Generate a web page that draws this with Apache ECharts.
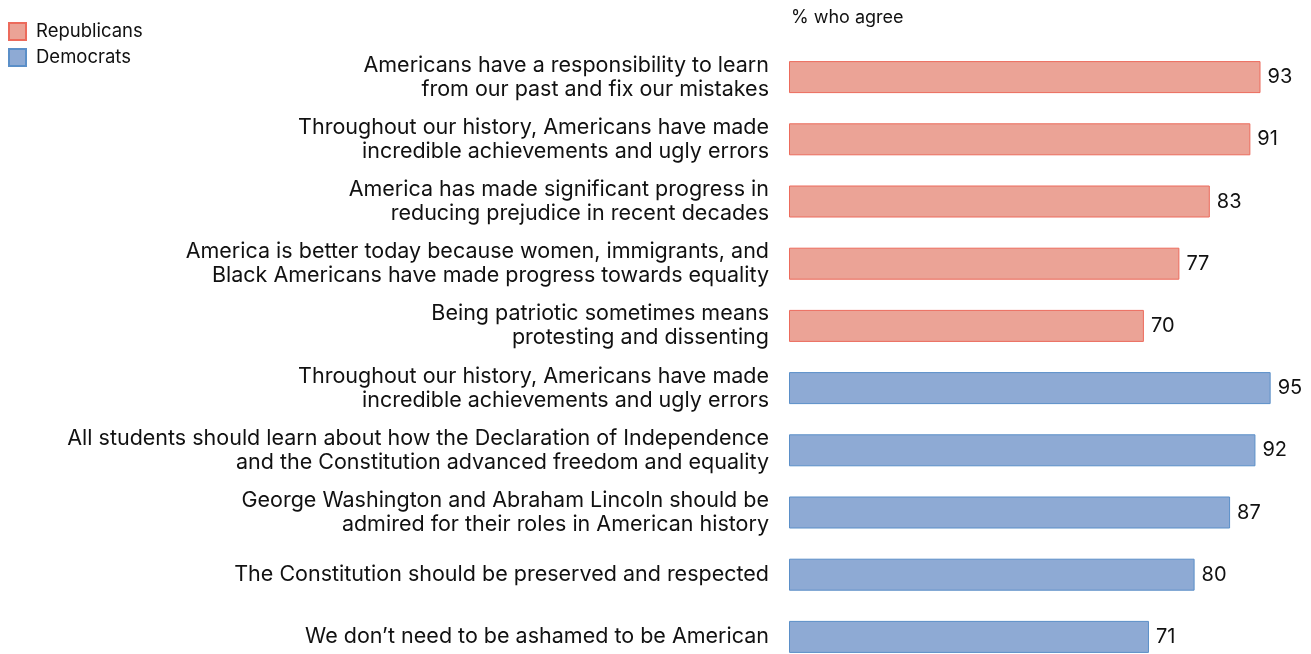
<!DOCTYPE html>
<html>
<head>
<meta charset="utf-8">
<style>
  html, body { margin: 0; padding: 0; background: #fff; }
  #chart { width: 1311px; height: 654px; }
</style>
<script src="https://cdn.jsdelivr.net/npm/echarts@6/dist/echarts.min.js"></script>
</head>
<body>
<div id="chart"></div>
<script>
// Statements, top to bottom
const categories = [
  'Americans have a responsibility to learn\nfrom our past and fix our mistakes',
  'Throughout our history, Americans have made\nincredible achievements and ugly errors',
  'America has made significant progress in\nreducing prejudice in recent decades',
  'America is better today because women, immigrants, and\nBlack Americans have made progress towards equality',
  'Being patriotic sometimes means\nprotesting and dissenting',
  'Throughout our history, Americans have made\nincredible achievements and ugly errors',
  'All students should learn about how the Declaration of Independence\nand the Constitution advanced freedom and equality',
  'George Washington and Abraham Lincoln should be\nadmired for their roles in American history',
  'The Constitution should be preserved and respected',
  'We don\u2019t need to be ashamed to be American'
];

// % who agree
const republicans = [93, 91, 83, 77, 70, null, null, null, null, null];
const democrats   = [null, null, null, null, null, 95, 92, 87, 80, 71];

const FONT = 'Inter, "Noto Sans", sans-serif';

const chart = echarts.init(document.getElementById('chart'));

const valueLabel = {
  show: true,
  position: 'right',
  distance: 7,
  fontSize: 20,
  fontFamily: FONT,
  color: '#111'
};

chart.setOption({
  animation: false,
  textStyle: { fontFamily: FONT },
  title: {
    text: '% who agree',
    left: 786,
    top: 4,
    textStyle: { fontSize: 18, fontWeight: 'normal', color: '#111', fontFamily: FONT }
  },
  legend: {
    orient: 'vertical',
    left: 8,
    top: 22,
    icon: 'rect',
    itemWidth: 17,
    itemHeight: 17,
    itemGap: 7,
    padding: 0,
    textStyle: { fontSize: 18.5, color: '#111', fontFamily: FONT, padding: [0, 0, 0, 5] },
    data: ['Republicans', 'Democrats']
  },
  grid: {
    left: 789, top: 46, width: 507, height: 622,
    containLabel: false,
    outerBoundsMode: 'none'
  },
  xAxis: {
    type: 'value',
    min: 0,
    max: 100,
    show: false
  },
  yAxis: {
    type: 'category',
    inverse: true,
    data: categories,
    axisLine: { show: false },
    axisTick: { show: false },
    axisLabel: {
      fontSize: 21.5,
      lineHeight: 24,
      color: '#111',
      margin: 20,
      align: 'right',
      padding: [4, 0, 0, 0],
      fontFamily: FONT
    }
  },
  series: [
    {
      name: 'Republicans',
      type: 'bar',
      data: republicans,
      barWidth: 32,
      barGap: '-100%',
      itemStyle: { color: '#eba396', borderColor: '#ec6b5c', borderWidth: 1 },
      label: valueLabel
    },
    {
      name: 'Democrats',
      type: 'bar',
      data: democrats,
      barWidth: 32,
      itemStyle: { color: '#8eaad4', borderColor: '#5b8fc8', borderWidth: 1 },
      label: valueLabel
    }
  ]
});
</script>
</body>
</html>
